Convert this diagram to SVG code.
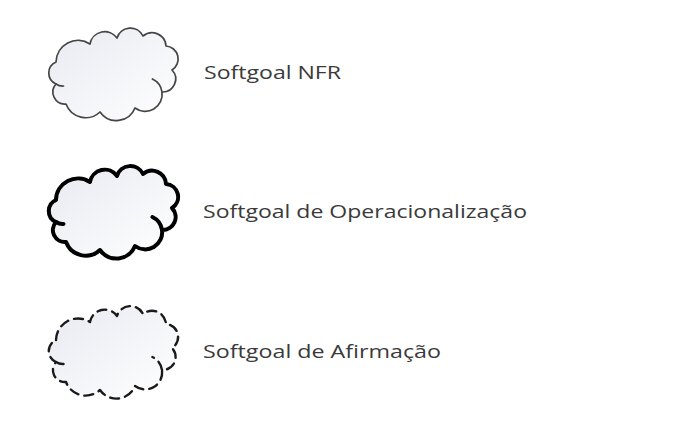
<svg xmlns="http://www.w3.org/2000/svg" xmlns:xlink="http://www.w3.org/1999/xlink" width="675" height="427" viewBox="0 0 675 427">
<style>
.bg{fill:#ffffff}
.cloud{fill:url(#cg);stroke-linejoin:round;stroke-linecap:round}
.curl{fill:none;stroke-linecap:round}
.nfr{stroke:#454545;stroke-width:1.7}
.op{stroke:#000000;stroke-width:4}
.af{stroke:#1a1a1a;stroke-width:2.4;stroke-dasharray:9 6}
.lbl{font-family:"Open Sans",Lato,"Liberation Sans",sans-serif;font-size:18px;fill:#3a3a3a}
</style>
<defs>
<linearGradient id="cg" x1="0" y1="0" x2="1" y2="1">
<stop offset="0" stop-color="#e8eaf1"/>
<stop offset="1" stop-color="#ffffff"/>
</linearGradient>
<path id="cloudOutline" d="M56,62 A22,22 0 0 1 90,44 A15,15 0 0 1 117,38 A14,14 0 0 1 143,36 A14,14 0 0 1 166,46 A13,13 0 0 1 172,70 A13,13 0 0 1 162,92 A17,17 0 0 1 135,108 A20,20 0 0 1 100,112 A21,21 0 0 1 66,104 A12,12 0 0 1 56,84 A12,12 0 0 1 56,62 Z"/>
<path id="cloudCurls" d="M162,92 A17,17 0 0 0 152.4,79 M56,84 A12,12 0 0 0 63.5,86"/>
</defs>
<rect class="bg" x="0" y="0" width="675" height="427"/>
<g id="node-nfr">
<use xlink:href="#cloudOutline" class="cloud nfr"/>
<use xlink:href="#cloudCurls" class="curl nfr"/>
<text class="lbl" x="204" y="79" textLength="137" lengthAdjust="spacingAndGlyphs">Softgoal NFR</text>
</g>
<g id="node-operacionalizacao">
<use xlink:href="#cloudOutline" class="cloud op" transform="translate(0,138)"/>
<use xlink:href="#cloudCurls" class="curl op" transform="translate(0,138)"/>
<text class="lbl" x="203" y="218" textLength="324" lengthAdjust="spacingAndGlyphs">Softgoal de Operacionalização</text>
</g>
<g id="node-afirmacao">
<use xlink:href="#cloudOutline" class="cloud af" transform="translate(0,278)"/>
<use xlink:href="#cloudCurls" class="curl af" transform="translate(0,278)"/>
<text class="lbl" x="203" y="358" textLength="238" lengthAdjust="spacingAndGlyphs">Softgoal de Afirmação</text>
</g>
<g id="connectors"/>
</svg>
